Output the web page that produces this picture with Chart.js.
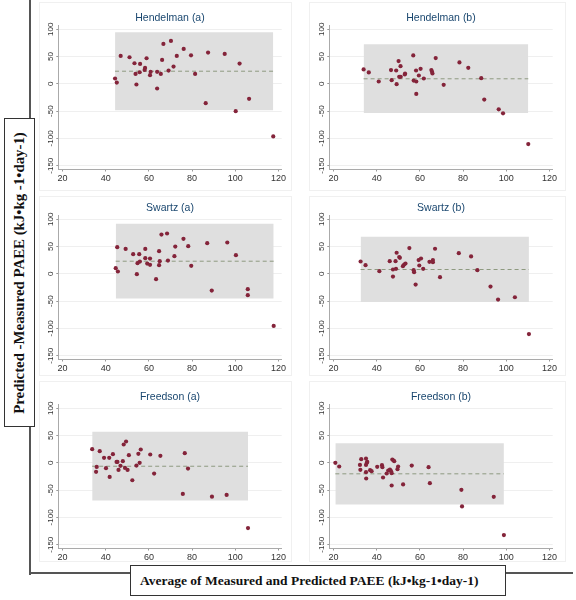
<!DOCTYPE html>
<html>
<head>
<meta charset="utf-8">
<script src="https://cdn.jsdelivr.net/npm/chart.js@4.4.0/dist/chart.umd.min.js"></script>
<style>
  body { margin: 0; width: 576px; height: 600px; position: relative; background: #fff; overflow: hidden; font-family: "Liberation Sans", Arial, sans-serif; }
  .panel { position: absolute; border: 1px solid #f0f0f0; box-sizing: border-box; }
  canvas.plot { position: absolute; }
  #frame-v { position: absolute; left: 29px; top: 0; width: 2px; height: 575px; background: #555; }
  #frame-h { position: absolute; left: 29px; top: 572px; width: 544px; height: 2px; background: #555; }
  .axis-box { position: absolute; box-sizing: border-box; background: #fff; border: 1.5px solid #333; font-family: "Liberation Serif", "Times New Roman", serif; font-weight: bold; color: #111; display: flex; align-items: center; justify-content: center; white-space: nowrap; }
  #ylab { left: 4px; top: 118px; width: 31px; height: 309px; }
  #ylab span { display: inline-block; transform: rotate(-90deg) scaleX(1.06); font-size: 14px; }
  #xlab { left: 130px; top: 565px; width: 376px; height: 31px; font-size: 13.5px; justify-content: flex-start; padding-left: 9px; }
</style>
</head>
<body>
<div class="panel" style="left:39px;top:2px;width:253px;height:189px"></div>
<div class="panel" style="left:309px;top:2px;width:257px;height:189px"></div>
<div class="panel" style="left:39px;top:196px;width:253px;height:180px"></div>
<div class="panel" style="left:309px;top:196px;width:257px;height:180px"></div>
<div class="panel" style="left:39px;top:381px;width:253px;height:181px"></div>
<div class="panel" style="left:309px;top:381px;width:257px;height:181px"></div>

<canvas class="plot" id="c1" width="252" height="190" style="left:36px;top:0px"></canvas>
<canvas class="plot" id="c2" width="252" height="190" style="left:307px;top:0px"></canvas>
<canvas class="plot" id="c3" width="252" height="190" style="left:36px;top:190px"></canvas>
<canvas class="plot" id="c4" width="252" height="190" style="left:307px;top:190px"></canvas>
<canvas class="plot" id="c5" width="252" height="190" style="left:36px;top:379px"></canvas>
<canvas class="plot" id="c6" width="252" height="190" style="left:307px;top:379px"></canvas>

<div id="frame-v"></div>
<div id="frame-h"></div>
<div class="axis-box" id="ylab"><span>Predicted -Measured PAEE (kJ•kg -1•day-1)</span></div>
<div class="axis-box" id="xlab">Average of Measured and Predicted PAEE (kJ•kg-1•day-1)</div>

<script>
/* ---------- Data ---------- */
const xTicks = [20, 40, 60, 80, 100, 120];
const yTicks = [-150, -100, -50, 0, 50, 100];

const panelTitles = ['Hendelman (a)', 'Hendelman (b)', 'Swartz (a)', 'Swartz (b)', 'Freedson (a)', 'Freedson (b)'];
const meanBias = [23.2, 9.3, 23.2, 8.0, -6.2, -20.1];
const upperLoA = [94.5, 72.4, 91.7, 68.0, 57.0, 36.0];
const lowerLoA = [-48.5, -53.4, -45.2, -51.5, -69.0, -76.2];

const hendelmanA_avg = [44.3, 45.1, 46.9, 51.0, 53.3, 53.8, 54.2, 55.9, 55.7, 58.0, 58.2, 58.9, 60.5, 60.8, 63.8, 63.8, 65.5, 66.1, 66.7, 69.1, 70.2, 71.4, 72.9, 76.1, 79.5, 81.4, 86.3, 87.4, 95.1, 100.2, 102.0, 106.4, 117.6];
const hendelmanA_diff = [9.8, 2.4, 51.2, 48.8, 37.8, 18.3, -1.2, 36.6, 21.3, 25.6, 29.3, 47.0, 15.9, 22.0, 22.0, -8.5, 18.3, 43.9, 73.2, 24.4, 78.7, 31.7, 51.2, 64.0, 52.4, 18.3, -35.4, 57.3, 54.9, -50.0, 37.2, -27.4, -96.3];

const hendelmanB_avg = [33.9, 36.3, 40.9, 46.6, 46.9, 49.0, 49.2, 50.1, 50.4, 51.0, 51.1, 53.0, 53.1, 56.9, 57.1, 58.2, 58.3, 58.3, 59.5, 60.3, 61.8, 65.3, 65.6, 65.8, 67.3, 71.0, 78.3, 82.4, 88.4, 89.8, 96.5, 98.5, 110.2];
const hendelmanB_diff = [26.4, 20.9, 4.3, 25.2, 6.7, 24.5, -0.6, 41.7, 12.9, 32.5, 12.9, 17.2, 19.0, 52.1, 6.1, 24.5, 4.3, -18.4, 15.3, 27.6, 9.8, 25.2, 22.1, 19.0, 47.2, -1.8, 39.3, 29.4, 10.4, -28.8, -46.6, -54.0, -110.4];

const swartzA_avg = [44.6, 45.3, 45.6, 49.2, 52.7, 54.4, 54.7, 55.5, 55.8, 58.3, 58.3, 59.2, 60.5, 60.5, 63.3, 64.7, 64.7, 65.0, 65.8, 68.4, 68.8, 71.8, 72.2, 76.0, 78.2, 79.6, 87.0, 89.1, 96.3, 100.3, 105.8, 105.8, 117.8];
const swartzA_diff = [10.4, 48.9, 4.3, 45.8, 36.1, -0.6, 19.6, 36.1, 22.6, 45.8, 28.7, 18.9, 28.1, 16.5, -9.8, 41.6, 15.9, 23.2, 72.1, 74.0, 24.4, 32.4, 50.1, 64.2, 50.7, 14.7, 56.2, -30.6, 57.5, 34.2, -28.1, -39.1, -95.4];

const swartzB_avg = [32.5, 34.8, 41.2, 46.0, 47.5, 47.5, 48.7, 48.9, 49.2, 50.4, 50.7, 52.1, 52.7, 53.3, 55.1, 57.1, 57.3, 58.0, 59.4, 59.7, 60.5, 61.5, 64.4, 66.0, 66.0, 67.0, 69.3, 78.0, 83.7, 86.6, 92.7, 96.2, 104.0, 110.5];
const swartzB_diff = [22.7, 16.0, 4.9, 23.3, 8.0, -4.9, 23.3, 9.2, 38.7, 30.7, 29.4, 14.1, 17.2, 19.0, 47.2, 6.7, 3.1, -19.6, 25.2, 15.3, 28.2, 9.2, 22.1, 25.2, 21.5, 46.0, -6.1, 38.0, 31.9, 6.7, -23.3, -47.2, -42.9, -110.4];

const freedsonA_avg = [33.7, 35.5, 35.8, 37.2, 39.2, 40.1, 41.6, 41.8, 43.3, 45.0, 45.4, 45.9, 46.8, 47.9, 48.3, 48.9, 49.4, 50.1, 50.7, 52.3, 54.2, 55.1, 55.7, 56.2, 60.6, 62.4, 65.3, 75.7, 76.6, 78.1, 89.2, 96.0, 105.9];
const freedsonA_diff = [25.1, -16.5, -7.4, 21.4, 9.2, -9.8, 9.2, -25.7, 15.9, 1.8, 1.8, -12.9, -5.5, 3.1, 33.7, -9.2, 39.2, -12.9, 14.1, -31.9, -4.9, 16.5, 0, 24.5, 15.3, -19.6, 12.9, -57.0, 17.8, -10.4, -61.9, -58.8, -119.5];

const freedsonB_avg = [20.8, 22.6, 32.2, 32.4, 32.8, 35.0, 35.0, 35.0, 35.1, 35.4, 35.6, 36.9, 37.6, 40.2, 42.4, 42.6, 42.9, 44.6, 45.3, 46.1, 46.6, 46.9, 46.9, 47.2, 47.8, 48.1, 49.6, 49.9, 52.2, 56.2, 64.0, 64.6, 79.2, 79.5, 94.2, 98.9];
const freedsonB_diff = [0, -6.7, -3.7, -12.8, 6.7, 7.9, -3.7, -17.1, -28.7, 0, 1.8, -13.4, -15.2, -7.3, -4.3, -7.9, -26.8, -19.5, -14.0, -12.2, -15.2, -18.9, -41.5, 6.1, 4.3, 3.0, -11.6, -6.7, -39.6, -4.9, -7.9, -37.2, -49.4, -79.9, -62.2, -132.3];

const panelAvg = [hendelmanA_avg, hendelmanB_avg, swartzA_avg, swartzB_avg, freedsonA_avg, freedsonB_avg];
const panelDiff = [hendelmanA_diff, hendelmanB_diff, swartzA_diff, swartzB_diff, freedsonA_diff, freedsonB_diff];

/* ---------- Title drawn over the plot area centre ---------- */
const panelTitle = {
  id: 'panelTitle',
  afterDraw(chart, args, opts) {
    const { ctx, chartArea } = chart;
    ctx.save();
    ctx.font = '10.5px "Liberation Sans", Arial, sans-serif';
    ctx.fillStyle = '#1a476f';
    ctx.textAlign = 'center';
    ctx.textBaseline = 'middle';
    ctx.fillText(opts.text, (chartArea.left + chartArea.right) / 2, opts.y);
    ctx.restore();
  }
};

/* ---------- Build one Bland-Altman panel ---------- */
function makePanel(i) {
  const avg = panelAvg[i];
  const diff = panelDiff[i];
  const xMin = Math.min(...avg);
  const xMax = Math.max(...avg);

  new Chart(document.getElementById('c' + (i + 1)), {
    type: 'scatter',
    data: {
      datasets: [
        {
          data: avg.map((v, k) => ({ x: v, y: diff[k] })),
          backgroundColor: '#84243a',
          borderWidth: 0,
          pointRadius: 2.1,
          order: 0
        },
        {
          type: 'line',
          data: [{ x: xMin, y: meanBias[i] }, { x: xMax, y: meanBias[i] }],
          borderColor: '#8e9a80',
          borderWidth: 1,
          borderDash: [4, 3],
          pointRadius: 0,
          order: 1
        },
        {
          type: 'line',
          data: [{ x: xMin, y: upperLoA[i] }, { x: xMax, y: upperLoA[i] }],
          borderWidth: 0,
          pointRadius: 0,
          backgroundColor: '#dfdfdf',
          fill: { value: lowerLoA[i] },
          order: 2
        }
      ]
    },
    plugins: [panelTitle],
    options: {
      responsive: false,
      animation: false,
      layout: { padding: { top: 25.5, right: 4, bottom: 0, left: 0 } },
      plugins: {
        legend: { display: false },
        tooltip: { enabled: false },
        panelTitle: { text: panelTitles[i], y: 18.5 }
      },
      scales: {
        x: {
          type: 'linear',
          min: 18,
          max: 121.5,
          afterBuildTicks: (s) => { s.ticks = xTicks.map(v => ({ value: v })); },
          afterFit: (s) => { s.height = 20.5; },
          grid: { display: true, drawOnChartArea: false, drawTicks: true, tickLength: 2, tickColor: '#999' },
          border: { color: '#aaa', width: 1 },
          ticks: { font: { size: 9, family: '"Liberation Sans", Arial, sans-serif' }, color: '#333', padding: 2, maxRotation: 0 }
        },
        y: {
          type: 'linear',
          min: -157,
          max: 107,
          afterBuildTicks: (s) => { s.ticks = yTicks.map(v => ({ value: v })); },
          afterFit: (s) => { s.width = 22.3; },
          grid: { color: '#efefef', tickColor: '#999', tickLength: 2 },
          border: { color: '#aaa', width: 1 },
          ticks: { font: { size: 8, family: '"Liberation Sans", Arial, sans-serif' }, color: '#333', minRotation: 90, maxRotation: 90, crossAlign: 'center', padding: -2.2 }
        }
      }
    }
  });
}

/* ---------- Init ---------- */
for (let i = 0; i < 6; i++) makePanel(i);
</script>
</body>
</html>
